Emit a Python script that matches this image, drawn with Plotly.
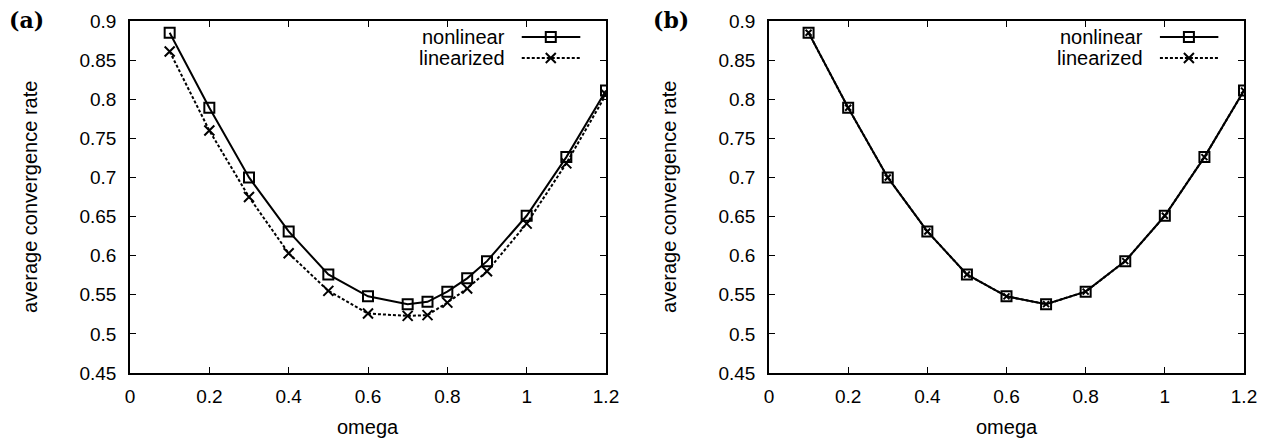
import plotly.graph_objects as go

# ---- data ----
omega_a = [0.1, 0.2, 0.3, 0.4, 0.5, 0.6, 0.7, 0.75, 0.8, 0.85, 0.9, 1.0, 1.1, 1.2]
nonlinear_a = [0.885, 0.789, 0.700, 0.631, 0.576, 0.548, 0.538, 0.541, 0.554, 0.571, 0.593, 0.651, 0.726, 0.811]
linearized_a = [0.861, 0.760, 0.675, 0.603, 0.555, 0.526, 0.523, 0.524, 0.540, 0.558, 0.580, 0.641, 0.718, 0.806]

omega_b = [0.1, 0.2, 0.3, 0.4, 0.5, 0.6, 0.7, 0.8, 0.9, 1.0, 1.1, 1.2]
nonlinear_b = [0.885, 0.789, 0.700, 0.631, 0.576, 0.548, 0.538, 0.554, 0.593, 0.651, 0.726, 0.811]
linearized_b = [0.885, 0.789, 0.700, 0.631, 0.576, 0.548, 0.538, 0.554, 0.593, 0.651, 0.726, 0.811]

x_ticks = [0, 0.2, 0.4, 0.6, 0.8, 1, 1.2]
x_tick_labels = ["0", "0.2", "0.4", "0.6", "0.8", "1", "1.2"]
y_ticks = [0.45, 0.5, 0.55, 0.6, 0.65, 0.7, 0.75, 0.8, 0.85, 0.9]
y_tick_labels = ["0.45", "0.5", "0.55", "0.6", "0.65", "0.7", "0.75", "0.8", "0.85", "0.9"]
series_names = ["nonlinear", "linearized"]
panel_labels = ["(a)", "(b)"]
x_title = "omega"
y_title = "average convergence rate"

# ---- style ----
W, H = 1265, 442
FONT = "Liberation Sans, Arial, sans-serif"
TICK_SIZE = 19
TITLE_SIZE = 20
BLACK = "#000000"
DASH = "3px,2px"
SQ = dict(symbol="square-open", size=10, color=BLACK, line=dict(width=2, color=BLACK))

dom_a = [130 / W, 606 / W]
dom_b = [769 / W, 1244 / W]
dom_y = [(H - 373) / H, (H - 21) / H]

fig = go.Figure()

def add_panel(xs, nl, lin, xa, ya, xsize):
    fig.add_trace(go.Scatter(
        x=xs, y=nl, mode="lines+markers", xaxis=xa, yaxis=ya, showlegend=False,
        line=dict(color=BLACK, width=2), marker=SQ,
    ))
    fig.add_trace(go.Scatter(
        x=xs, y=lin, mode="lines+markers", xaxis=xa, yaxis=ya, showlegend=False,
        line=dict(color=BLACK, width=2, dash=DASH),
        marker=dict(symbol="x-thin-open", size=xsize, color=BLACK, line=dict(width=2, color=BLACK)),
    ))

add_panel(omega_a, nonlinear_a, linearized_a, "x", "y", 10)
add_panel(omega_b, nonlinear_b, linearized_b, "x2", "y2", 6)

# ---- legend samples drawn on overlay axes (0..1 in each panel) ----
LEG_X0, LEG_X1, LEG_XM = 0.823, 0.946, 0.884
LEG_Y = [0.9545, 0.895]
LEG_TEXT_X = 0.791

for xa, ya in (("x3", "y3"), ("x4", "y4")):
    fig.add_trace(go.Scatter(
        x=[LEG_X0, LEG_X1], y=[LEG_Y[0], LEG_Y[0]], mode="lines", xaxis=xa, yaxis=ya,
        showlegend=False, hoverinfo="skip", line=dict(color=BLACK, width=2)))
    fig.add_trace(go.Scatter(
        x=[LEG_XM], y=[LEG_Y[0]], mode="markers", xaxis=xa, yaxis=ya, showlegend=False,
        hoverinfo="skip", marker=SQ))
    fig.add_trace(go.Scatter(
        x=[LEG_X0, LEG_X1], y=[LEG_Y[1], LEG_Y[1]], mode="lines", xaxis=xa, yaxis=ya,
        showlegend=False, hoverinfo="skip", line=dict(color=BLACK, width=2, dash=DASH)))
    fig.add_trace(go.Scatter(
        x=[LEG_XM], y=[LEG_Y[1]], mode="markers", xaxis=xa, yaxis=ya, showlegend=False,
        hoverinfo="skip",
        marker=dict(symbol="x-thin-open", size=10, color=BLACK, line=dict(width=2, color=BLACK))))
    for name, yy in zip(series_names, LEG_Y):
        fig.add_annotation(x=LEG_TEXT_X, y=yy, xref=xa, yref=ya, text=name, showarrow=False,
                           xanchor="right", yanchor="middle",
                           font=dict(family=FONT, size=TITLE_SIZE, color=BLACK))

axis_common = dict(
    showgrid=False, zeroline=False, showline=True, linecolor=BLACK, linewidth=1.5,
    mirror="ticks", ticks="inside", ticklen=6, tickwidth=1, tickcolor=BLACK,
    tickfont=dict(family=FONT, size=TICK_SIZE, color=BLACK), automargin=False,
)

xcfg = dict(axis_common, range=[0, 1.2], tickmode="array", tickvals=x_ticks, ticktext=x_tick_labels,
            ticklabelstandoff=5)
ycfg = dict(axis_common, range=[0.45, 0.9], tickmode="array", tickvals=y_ticks, ticktext=y_tick_labels,
            ticklabelstandoff=8)
hidden = dict(visible=False, range=[0, 1], fixedrange=True, showgrid=False, zeroline=False)

fig.update_layout(
    width=W, height=H,
    margin=dict(l=0, r=0, t=0, b=0),
    paper_bgcolor="white", plot_bgcolor="white",
    xaxis=dict(xcfg, domain=dom_a, anchor="y"),
    yaxis=dict(ycfg, domain=dom_y, anchor="x"),
    xaxis2=dict(xcfg, domain=dom_b, anchor="y2"),
    yaxis2=dict(ycfg, domain=dom_y, anchor="x2"),
    xaxis3=dict(hidden, overlaying="x", anchor="y3"),
    yaxis3=dict(hidden, overlaying="y", anchor="x3"),
    xaxis4=dict(hidden, overlaying="x2", anchor="y4"),
    yaxis4=dict(hidden, overlaying="y2", anchor="x4"),
    showlegend=False,
)

# axis titles and panel labels
for dom, label, lx in ((dom_a, panel_labels[0], 26 / W), (dom_b, panel_labels[1], 671 / W)):
    cx = (dom[0] + dom[1]) / 2
    fig.add_annotation(x=cx, y=(H - 427) / H, xref="paper", yref="paper", text=x_title,
                       showarrow=False, xanchor="center", yanchor="middle",
                       font=dict(family=FONT, size=TITLE_SIZE, color=BLACK))
    fig.add_annotation(x=dom[0] - 100 / W, y=(dom_y[0] + dom_y[1]) / 2, xref="paper", yref="paper",
                       text=y_title, textangle=-90, showarrow=False, xanchor="center", yanchor="middle",
                       font=dict(family=FONT, size=TITLE_SIZE, color=BLACK))
    fig.add_annotation(x=lx, y=(H - 20) / H, xref="paper", yref="paper", text="<b>" + label + "</b>",
                       showarrow=False, xanchor="center", yanchor="middle",
                       font=dict(family="DejaVu Serif, serif", size=22, color=BLACK))

fig.write_html(
    "out.html",
    config={"displayModeBar": False},
    post_script="document.body.style.margin='0';document.body.style.padding='0';"
                "document.documentElement.style.overflow='hidden';",
)
